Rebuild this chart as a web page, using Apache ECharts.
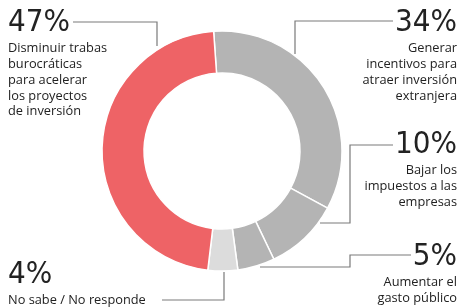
<!DOCTYPE html>
<html>
<head>
<meta charset="utf-8">
<script src="https://cdn.jsdelivr.net/npm/echarts@6/dist/echarts.min.js"></script>
<style>
  html, body { margin: 0; padding: 0; background: #fff; }
  #chart { width: 462px; height: 307px; }
</style>
</head>
<body>
<div id="chart"></div>
<script>
// datos de la encuesta (sentido horario desde arriba)
var categories = [
  'Generar\nincentivos para\natraer inversión\nextranjera',
  'Bajar los\nimpuestos a las\nempresas',
  'Aumentar el\ngasto público',
  'No sabe / No responde',
  'Disminuir trabas\nburocráticas\npara acelerar\nlos proyectos\nde inversión'
];
var values = [34, 10, 5, 4, 47];
var colors = ['#b4b4b4', '#b4b4b4', '#b4b4b4', '#dcdcdc', '#ee6366'];

// posicion de cada etiqueta y su linea guia
var labelPos = [
  { x: 457, y: 4, align: 'right', line: [[295, 54], [295, 21], [393, 21]] },
  { x: 457, y: 126, align: 'right', line: [[320, 223], [350, 223], [350, 145], [393, 145]] },
  { x: 457, y: 238, align: 'right', line: [[260, 267], [350, 267], [350, 255], [411, 255]] },
  { x: 8, y: 256, align: 'left', line: [[224, 272], [224, 300], [162, 300]] },
  { x: 8, y: 4, align: 'left', line: [[157, 46], [157, 22], [73, 22]] }
];

var chart = echarts.init(document.getElementById('chart'));

var data = values.map(function (v, i) {
  return { name: categories[i], value: v, itemStyle: { color: colors[i] } };
});

chart.setOption({
  animation: false,
  series: [{
    type: 'pie',
    center: [222, 151],
    radius: [78, 120],
    startAngle: 94,
    clockwise: true,
    data: data,
    itemStyle: { borderColor: '#fff', borderWidth: 1.5 },
    label: {
      show: true,
      overflow: 'none',
      formatter: function (p) {
        return '{p|' + p.value + '%}\n{t|' + p.name.split('\n').join('}\n{t|') + '}';
      },
      rich: {
        p: { fontFamily: 'DejaVu Sans Condensed', fontSize: 31, color: '#222', lineHeight: 37 },
        t: { fontFamily: 'Open Sans', fontSize: 12.8, color: '#222', lineHeight: 15.7 }
      }
    },
    labelLine: {
      show: true,
      lineStyle: { color: '#7a7a7a', width: 1.2 }
    },
    labelLayout: function (params) {
      var l = labelPos[params.dataIndex];
      return {
        x: l.x,
        y: l.y,
        align: l.align,
        verticalAlign: 'top',
        labelLinePoints: l.line
      };
    }
  }]
});
</script>
</body>
</html>
